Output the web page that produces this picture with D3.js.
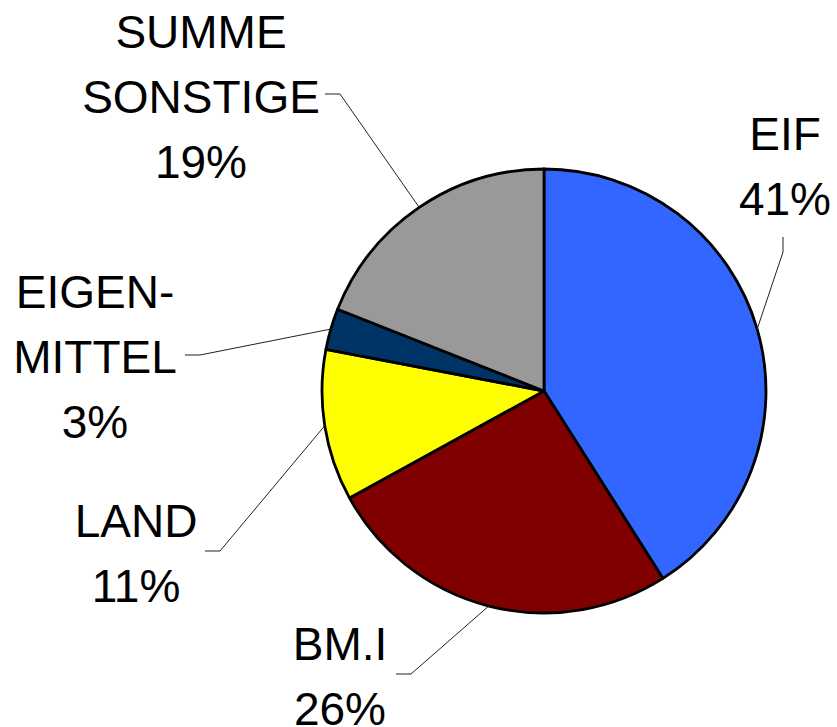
<!DOCTYPE html>
<html>
<head>
<meta charset="utf-8">
<script src="https://cdn.jsdelivr.net/npm/d3@7"></script>
<style>
  body { margin: 0; background: #fff; }
  text { font-family: "Liberation Sans", Arial, sans-serif; }
</style>
</head>
<body>
<div id="chart"></div>
<script>
// Slice data (clockwise from 12 o'clock)
const categories = ["EIF", "BM.I", "LAND", "EIGEN-MITTEL", "SUMME SONSTIGE"];
const values = [41, 26, 11, 3, 19];
const labelLines = [["EIF"], ["BM.I"], ["LAND"], ["EIGEN-", "MITTEL"], ["SUMME", "SONSTIGE"]];
const colors = ["#3366FF", "#800000", "#FFFF00", "#003366", "#999999"];

// Label layout: text centre, first baseline, leader elbow and leader start
const labelLayout = [
    { x: 785, y: 150, elbow: [783, 252], start: [783, 237] },
    { x: 340, y: 660, elbow: [411, 674], start: [396, 674] },
    { x: 136, y: 537, elbow: [220, 551], start: [205, 551] },
    { x: 95, y: 308, elbow: [200, 355], start: [185, 355] },
    { x: 201, y: 48, elbow: [340, 94], start: [325, 94] }
];

const width = 837, height = 727;
const cx = 544, cy = 391, radius = 222;
const fontSize = 46, lineHeight = 65;

const svg = d3.select("#chart")
    .append("svg")
    .attr("width", width)
    .attr("height", height);

const pie = d3.pie().sort(null).value((d) => d.value);
const arcs = pie(categories.map((c, i) => ({ name: c, value: values[i], i })));
const arc = d3.arc().innerRadius(0).outerRadius(radius);

const g = svg.append("g").attr("transform", `translate(${cx}, ${cy})`);

// Slices
g.selectAll("path")
    .data(arcs)
    .enter()
    .append("path")
    .attr("d", arc)
    .attr("fill", (d) => colors[d.data.i])
    .attr("stroke", "#000")
    .attr("stroke-width", 2.8)
    .attr("stroke-linejoin", "round");

// Leader lines
const total = d3.sum(values);
arcs.forEach((d) => {
    const L = labelLayout[d.data.i];
    const mid = (d.startAngle + d.endAngle) / 2;
    const ex = cx + radius * Math.sin(mid);
    const ey = cy - radius * Math.cos(mid);
    svg.append("polyline")
        .attr("points", [L.start, L.elbow, [ex, ey]].map((p) => p.join(",")).join(" "))
        .attr("fill", "none")
        .attr("stroke", "#222")
        .attr("stroke-width", 1);

    // Labels: name lines + percent
    const lines = labelLines[d.data.i].concat([Math.round(d.data.value / total * 100) + "%"]);
    const t = svg.append("text")
        .attr("text-anchor", "middle")
        .style("font-size", fontSize + "px")
        .style("fill", "#000");
    lines.forEach((s, k) => {
        t.append("tspan")
            .attr("x", L.x)
            .attr("y", L.y + k * lineHeight)
            .text(s);
    });
});
</script>
</body>
</html>
